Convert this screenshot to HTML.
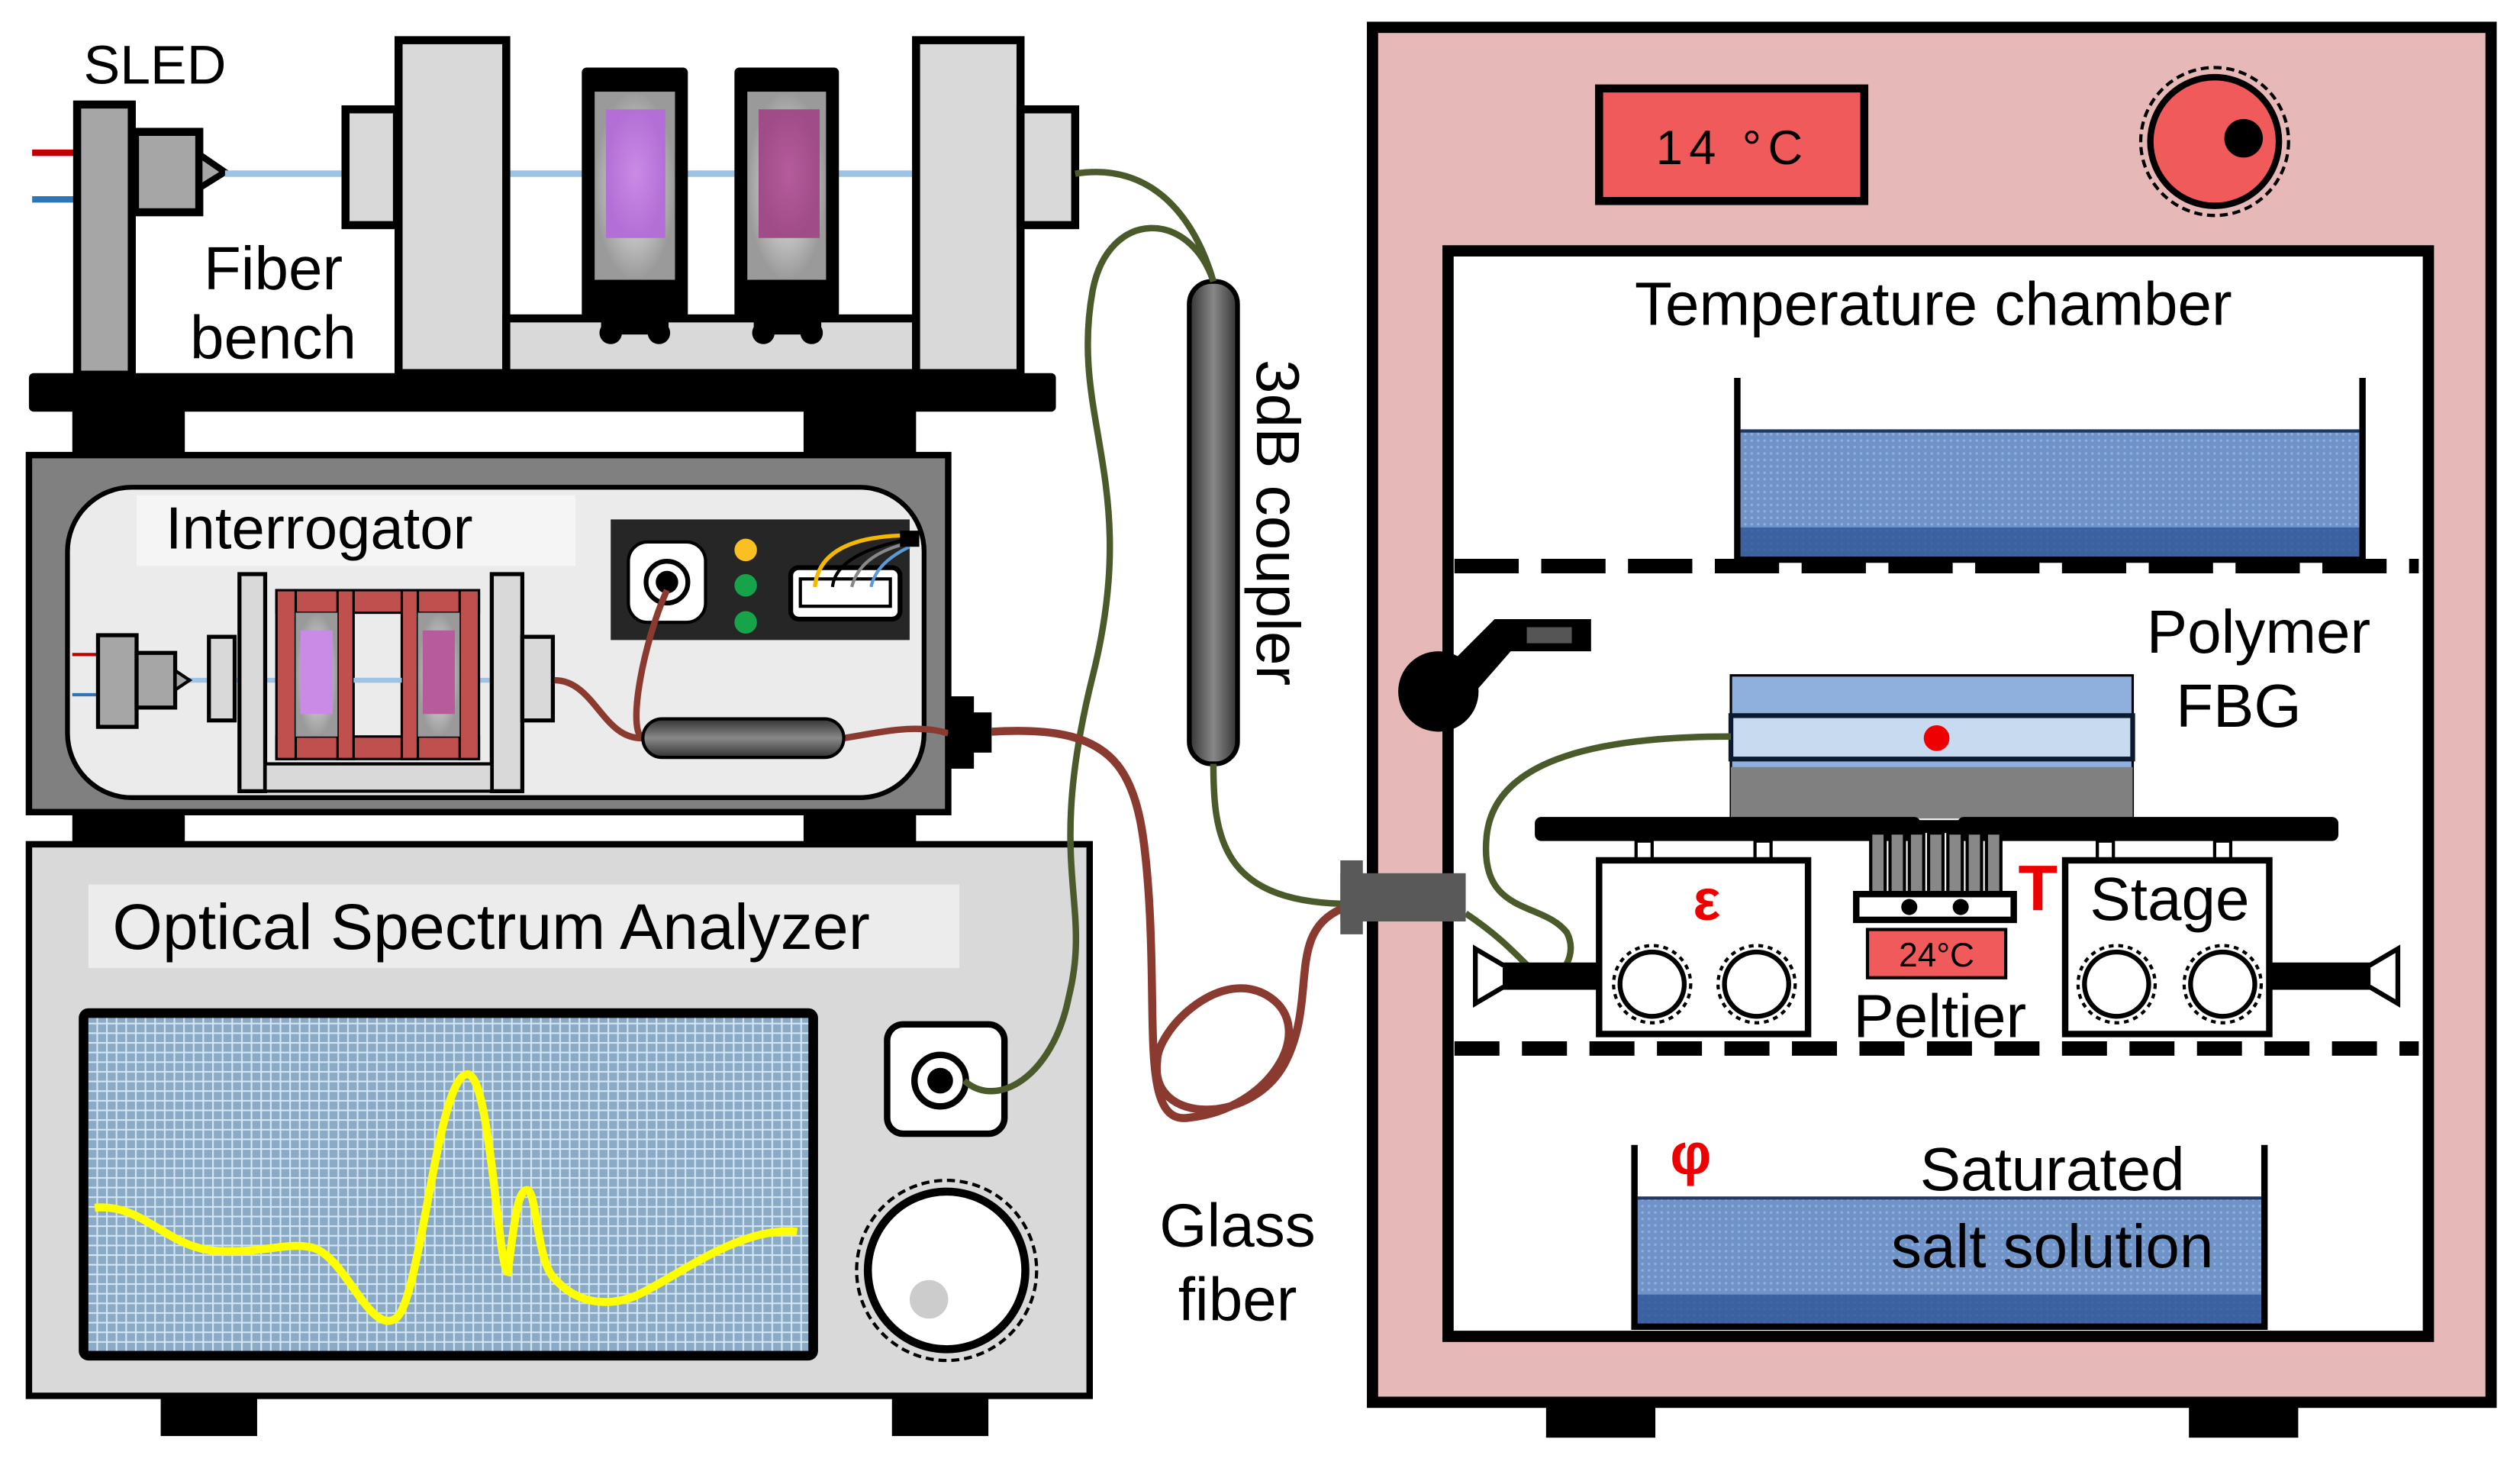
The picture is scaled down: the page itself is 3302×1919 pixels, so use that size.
<!DOCTYPE html>
<html><head><meta charset="utf-8"><style>
html,body{margin:0;padding:0;background:#fff}
svg{display:block}
text{font-family:"Liberation Sans","DejaVu Sans",sans-serif}
</style></head><body>
<svg width="3302" height="1919" viewBox="0 0 1568 911" preserveAspectRatio="none" xmlns="http://www.w3.org/2000/svg">
<defs>
<pattern id="grid" width="6" height="6" patternUnits="userSpaceOnUse">
<rect width="6" height="6" fill="#8aaac6"/><path d="M0 0.5H6M0.5 0V6" stroke="#d4e6f4" stroke-width="1"/>
</pattern>
<pattern id="dots" width="4" height="4" patternUnits="userSpaceOnUse">
<rect width="4" height="4" fill="#6f93c7"/><circle cx="2" cy="2" r="0.8" fill="#8fb0dd"/>
</pattern>
<linearGradient id="cpl" x1="0" x2="1"><stop offset="0" stop-color="#333"/><stop offset="0.5" stop-color="#888"/><stop offset="1" stop-color="#333"/></linearGradient>
<linearGradient id="cplh" x1="0" x2="0" y1="0" y2="1"><stop offset="0" stop-color="#333"/><stop offset="0.5" stop-color="#888"/><stop offset="1" stop-color="#333"/></linearGradient>
<radialGradient id="filt1"><stop offset="0" stop-color="#c98be6"/><stop offset="1" stop-color="#b46fd6"/></radialGradient>
<radialGradient id="filt2"><stop offset="0" stop-color="#b65c9c"/><stop offset="1" stop-color="#a04c88"/></radialGradient>
<radialGradient id="fback"><stop offset="0" stop-color="#f2f2f2"/><stop offset="1" stop-color="#9a9a9a"/></radialGradient>
</defs>

<!-- SLED / Fiber bench -->
<text x="52" y="52" font-size="34">SLED</text>
<line x1="20" y1="95" x2="48" y2="95" stroke="#c00000" stroke-width="4"/>
<line x1="20" y1="124" x2="48" y2="124" stroke="#2e75b6" stroke-width="4"/>
<rect x="48" y="65" width="34" height="168" fill="#a6a6a6" stroke="#000" stroke-width="5"/>
<rect x="84" y="82" width="40" height="50" fill="#a6a6a6" stroke="#000" stroke-width="5"/>
<path d="M124 96 L140 107 L124 117Z" fill="#a6a6a6" stroke="#000" stroke-width="4"/>
<line x1="140" y1="108" x2="570" y2="108" stroke="#9dc3e6" stroke-width="4"/>
<rect x="215" y="68" width="32" height="72" fill="#d9d9d9" stroke="#000" stroke-width="5"/>
<rect x="248" y="25" width="67" height="207" fill="#d9d9d9" stroke="#000" stroke-width="5"/>
<rect x="315" y="198" width="255" height="34" fill="#d9d9d9" stroke="#000" stroke-width="5"/>
<rect x="570" y="25" width="65" height="207" fill="#d9d9d9" stroke="#000" stroke-width="5"/>
<rect x="635" y="68" width="34" height="72" fill="#d9d9d9" stroke="#000" stroke-width="5"/>
<g>
<rect x="362" y="42" width="66" height="156" rx="3" fill="#000"/>
<rect x="370" y="57" width="50" height="117" fill="url(#fback)"/>
<rect x="377" y="68" width="37" height="80" fill="url(#filt1)"/>
<rect x="374" y="174" width="42" height="34" fill="#000"/>
<circle cx="380" cy="207" r="7" fill="#000"/><circle cx="410" cy="207" r="7" fill="#000"/>
<rect x="457" y="42" width="65" height="156" rx="3" fill="#000"/>
<rect x="465" y="57" width="49" height="117" fill="url(#fback)"/>
<rect x="472" y="68" width="38" height="80" fill="url(#filt2)"/>
<rect x="469" y="174" width="42" height="34" fill="#000"/>
<circle cx="475" cy="207" r="7" fill="#000"/><circle cx="505" cy="207" r="7" fill="#000"/>
</g>
<text x="170" y="180" font-size="38" text-anchor="middle">Fiber</text>
<text x="170" y="223" font-size="38" text-anchor="middle">bench</text>
<rect x="18" y="232" width="639" height="24" rx="3" fill="#000"/>
<rect x="45" y="255" width="70" height="30" fill="#000"/>
<rect x="500" y="255" width="70" height="30" fill="#000"/>

<!-- Interrogator -->
<rect x="18" y="283" width="572" height="222" fill="#808080" stroke="#000" stroke-width="4"/>
<rect x="42" y="303" width="533" height="193" rx="40" fill="#ebebeb" stroke="#000" stroke-width="3"/>
<rect x="85" y="308" width="273" height="44" fill="#f5f5f5"/>
<text x="103" y="341" font-size="37">Interrogator</text>
<rect x="380" y="323" width="186" height="75" fill="#262626"/>
<rect x="391" y="337" width="48" height="50" rx="12" fill="#fff" stroke="#000" stroke-width="2"/>
<circle cx="415" cy="362" r="13" fill="#fff" stroke="#000" stroke-width="3"/>
<circle cx="415" cy="362" r="7" fill="#000"/>
<circle cx="464" cy="342" r="7" fill="#fbbf24"/>
<circle cx="464" cy="364" r="7" fill="#16a34a"/>
<circle cx="464" cy="387" r="7" fill="#16a34a"/>
<rect x="492" y="353" width="68" height="32" rx="5" fill="#fff" stroke="#000" stroke-width="3"/>
<rect x="498" y="360" width="56" height="17" fill="#fff" stroke="#000" stroke-width="2"/>
<path d="M507 365 Q510 335 560 333" fill="none" stroke-width="2.5" stroke="#f5b800"/>
<path d="M518 365 Q520 345 562 336" fill="none" stroke="#000" stroke-width="2"/>
<path d="M530 365 Q535 345 564 338" fill="none" stroke="#888" stroke-width="2"/>
<path d="M542 365 Q545 350 566 340" fill="none" stroke="#5b9bd5" stroke-width="2"/>
<rect x="560" y="330" width="12" height="10" fill="#000"/>
<!-- mini bench -->
<line x1="45" y1="407" x2="62" y2="407" stroke="#c00000" stroke-width="2"/>
<line x1="45" y1="432" x2="62" y2="432" stroke="#2e75b6" stroke-width="2"/>
<line x1="110" y1="423" x2="325" y2="423" stroke="#9dc3e6" stroke-width="3"/>
<rect x="61" y="395" width="24" height="57" fill="#a6a6a6" stroke="#000" stroke-width="2.5"/>
<rect x="85" y="406" width="24" height="34" fill="#a6a6a6" stroke="#000" stroke-width="2.5"/>
<path d="M109 417 L118 423 L109 429Z" fill="#a6a6a6" stroke="#000" stroke-width="2"/>
<rect x="130" y="396" width="16" height="52" fill="#d9d9d9" stroke="#000" stroke-width="2.5"/>
<rect x="149" y="357" width="16" height="135" fill="#d9d9d9" stroke="#000" stroke-width="2.5"/>
<rect x="306" y="357" width="19" height="135" fill="#d9d9d9" stroke="#000" stroke-width="2.5"/>
<rect x="325" y="396" width="19" height="52" fill="#d9d9d9" stroke="#000" stroke-width="2.5"/>
<rect x="165" y="475" width="141" height="17" fill="#d9d9d9" stroke="#000" stroke-width="2"/>
<!-- brown frames -->
<g fill="#c0504d" stroke="#000" stroke-width="1.5">
<rect x="172" y="367" width="126" height="14"/>
<rect x="172" y="458" width="126" height="14"/>
<rect x="172" y="367" width="12" height="105"/>
<rect x="210" y="367" width="10" height="105"/>
<rect x="250" y="367" width="10" height="105"/>
<rect x="286" y="367" width="12" height="105"/>
</g>
<rect x="184" y="381" width="26" height="77" fill="url(#fback)"/>
<rect x="260" y="381" width="26" height="77" fill="url(#fback)"/>
<rect x="187" y="392" width="20" height="52" fill="#c98be6"/>
<rect x="263" y="392" width="20" height="52" fill="#b65c9c"/>
<line x1="220" y1="423" x2="250" y2="423" stroke="#9dc3e6" stroke-width="3"/>
<!-- internal coupler & fiber -->
<path d="M345 423 C370 423 375 460 400 459 M415 367 C400 400 390 455 400 459 M525 459 C550 455 570 450 590 456" fill="none" stroke="#8b3a30" stroke-width="4"/>
<rect x="400" y="447" width="125" height="24" rx="12" fill="url(#cplh)" stroke="#000" stroke-width="2"/>
<rect x="590" y="433" width="16" height="45" fill="#000"/>
<rect x="600" y="443" width="17" height="25" fill="#000"/>
<rect x="45" y="505" width="70" height="22" fill="#000"/>
<rect x="500" y="505" width="70" height="22" fill="#000"/>

<!-- OSA -->
<rect x="18" y="525" width="660" height="343" fill="#d9d9d9" stroke="#000" stroke-width="4"/>
<rect x="55" y="550" width="542" height="52" fill="#ececec"/>
<text x="70" y="590" font-size="40">Optical Spectrum Analyzer</text>
<rect x="52" y="630" width="454" height="213" rx="3" fill="url(#grid)" stroke="#000" stroke-width="6"/>
<path d="M59 751 C90 748 105 778 138 778 C165 779 180 772 195 776 C215 782 230 830 246 820 C262 810 272 668 291 668 C305 668 310 790 316 791 C320 760 322 740 328 740 C334 740 334 785 345 795 C360 812 380 812 395 806 C420 795 460 762 496 766" fill="none" stroke="#ffff00" stroke-width="5"/>
<rect x="552" y="637" width="73" height="68" rx="10" fill="#fff" stroke="#000" stroke-width="4"/>
<circle cx="585" cy="672" r="16" fill="#fff" stroke="#000" stroke-width="4"/>
<circle cx="585" cy="672" r="8" fill="#000"/>
<circle cx="589" cy="790" r="56" fill="none" stroke="#000" stroke-width="2" stroke-dasharray="5 3"/>
<circle cx="589" cy="790" r="49" fill="#fff" stroke="#000" stroke-width="5"/>
<circle cx="578" cy="808" r="12" fill="#ccc"/>
<rect x="100" y="868" width="60" height="25" fill="#000"/>
<rect x="555" y="868" width="60" height="25" fill="#000"/>

<!-- 3dB coupler -->
<rect x="740" y="175" width="30" height="300" rx="14" fill="url(#cpl)" stroke="#000" stroke-width="3"/>
<text transform="translate(782,325) rotate(90)" font-size="38" text-anchor="middle">3dB coupler</text>

<!-- Glass fibers -->
<path d="M669 108 C720 100 745 140 755 175" fill="none" stroke="#4a5a2a" stroke-width="4"/>
<path d="M755 175 C740 130 690 130 680 180 C665 260 710 300 680 420 C650 540 680 560 665 620 C655 670 620 690 600 672" fill="none" stroke="#4a5a2a" stroke-width="4"/>
<path d="M755 475 C755 520 760 560 835 562" fill="none" stroke="#4a5a2a" stroke-width="4"/>
<path d="M617 455 C700 450 710 480 715 560 C720 640 710 700 740 695 C790 690 820 640 790 620 C760 600 720 640 720 660 C715 700 780 700 800 660 C820 620 800 580 835 565" fill="none" stroke="#8b3a30" stroke-width="5"/>
<text x="770" y="775" font-size="38" text-anchor="middle">Glass</text>
<text x="770" y="821" font-size="38" text-anchor="middle">fiber</text>

<!-- Chamber -->
<rect x="854" y="17" width="696" height="855" fill="#e6b9b8" stroke="#000" stroke-width="7"/>
<rect x="995" y="55" width="165" height="70" fill="#f05a5a" stroke="#000" stroke-width="5"/>
<text x="1078" y="102" font-size="30" text-anchor="middle" font-family="Liberation Mono, monospace" letter-spacing="4">14 °C</text>
<circle cx="1378" cy="88" r="46" fill="none" stroke="#000" stroke-width="2" stroke-dasharray="5 3"/>
<circle cx="1378" cy="88" r="40" fill="#f05a5a" stroke="#000" stroke-width="4"/>
<circle cx="1396" cy="86" r="12" fill="#000"/>
<rect x="901" y="156" width="610" height="675" fill="#fff" stroke="#000" stroke-width="7"/>
<text x="1203" y="202" font-size="38" text-anchor="middle">Temperature chamber</text>
<rect x="1083" y="268" width="385" height="78" fill="url(#dots)"/>
<rect x="1083" y="328" width="385" height="18" fill="#2f5597" opacity="0.8"/>
<path d="M1081 235 V348 H1470 V235" fill="none" stroke="#000" stroke-width="4"/>
<line x1="1083" y1="268" x2="1468" y2="268" stroke="#1f3864" stroke-width="2"/>
<line x1="905" y1="352" x2="1505" y2="352" stroke="#000" stroke-width="9" stroke-dasharray="40 14"/>
<line x1="905" y1="652" x2="1505" y2="652" stroke="#000" stroke-width="9" stroke-dasharray="28 14"/>
<text x="1475" y="406" font-size="38" text-anchor="end">Polymer</text>
<text x="1432" y="452" font-size="38" text-anchor="end">FBG</text>
<!-- clamp -->
<circle cx="895" cy="430" r="25" fill="#000"/>
<path d="M885 430 L930 385 L990 385 L990 405 L940 405 L905 445Z" fill="#000"/>
<rect x="950" y="390" width="28" height="10" fill="#555"/>
<!-- sample -->
<rect x="1077" y="420" width="250" height="88" fill="#8fb0dd" stroke="#000" stroke-width="1.5"/>
<rect x="1077" y="445" width="250" height="27" fill="#c7daf0" stroke="#0a1a30" stroke-width="3"/>
<rect x="1077" y="477" width="250" height="32" fill="#808080"/>
<circle cx="1205" cy="459" r="8" fill="#ee0000"/>
<path d="M1077 458 C1000 458 930 470 925 520 C920 570 960 560 975 580 C985 600 960 620 950 600 C940 590 930 580 912 568" fill="none" stroke="#4a5a2a" stroke-width="4"/>
<!-- stage -->
<rect x="955" y="508" width="240" height="15" rx="4" fill="#000"/>
<rect x="1218" y="508" width="237" height="15" rx="4" fill="#000"/>
<rect x="1195" y="511" width="23" height="8" fill="#fff"/>
<g fill="#fff" stroke="#000" stroke-width="2"><rect x="1018" y="523" width="10" height="14"/><rect x="1092" y="523" width="10" height="14"/><rect x="1305" y="523" width="10" height="14"/><rect x="1378" y="523" width="10" height="14"/></g>
<rect x="1158" y="510" width="95" height="8" rx="3" fill="#000"/>
<g stroke="#000" stroke-width="2" fill="#888"><rect x="1164" y="518" width="9" height="38"/><rect x="1176" y="518" width="9" height="38"/><rect x="1188" y="518" width="9" height="38"/><rect x="1200" y="518" width="9" height="38"/><rect x="1212" y="518" width="9" height="38"/><rect x="1224" y="518" width="9" height="38"/><rect x="1236" y="518" width="9" height="38"/></g>
<rect x="1155" y="556" width="98" height="16" fill="#fff" stroke="#000" stroke-width="4"/>
<circle cx="1188" cy="564" r="5" fill="#000"/><circle cx="1220" cy="564" r="5" fill="#000"/>
<rect x="1162" y="578" width="86" height="30" fill="#f05a5a" stroke="#000" stroke-width="2"/>
<text x="1205" y="601" font-size="21" text-anchor="middle" font-family="Liberation Mono, monospace">24°C</text>
<text x="1207" y="645" font-size="38" text-anchor="middle">Peltier</text>
<path d="M918 590 L935 600 H995 V614 H935 L918 624Z" fill="#fff" stroke="#000" stroke-width="3"/>
<rect x="935" y="600" width="60" height="14" fill="#000"/>
<path d="M1492 590 L1475 600 H1412 V614 H1475 L1492 624Z" fill="#fff" stroke="#000" stroke-width="3"/>
<rect x="1412" y="600" width="63" height="14" fill="#000"/>
<rect x="995" y="535" width="130" height="108" fill="#fff" stroke="#000" stroke-width="4"/>
<rect x="1285" y="535" width="127" height="108" fill="#fff" stroke="#000" stroke-width="4"/>
<g fill="#fff" stroke="#000">
<circle cx="1028" cy="612" r="24" stroke-width="2" stroke-dasharray="3 3"/><circle cx="1028" cy="612" r="20" stroke-width="3"/>
<circle cx="1093" cy="612" r="24" stroke-width="2" stroke-dasharray="3 3"/><circle cx="1093" cy="612" r="20" stroke-width="3"/>
<circle cx="1317" cy="612" r="24" stroke-width="2" stroke-dasharray="3 3"/><circle cx="1317" cy="612" r="20" stroke-width="3"/>
<circle cx="1383" cy="612" r="24" stroke-width="2" stroke-dasharray="3 3"/><circle cx="1383" cy="612" r="20" stroke-width="3"/>
</g>
<text x="1062" y="572" font-size="36" fill="#ee0000" font-weight="bold" text-anchor="middle">ε</text>
<text x="1268" y="566" font-size="40" fill="#ee0000" font-weight="bold" text-anchor="middle">T</text>
<text x="1350" y="572" font-size="38" text-anchor="middle">Stage</text>
<!-- feedthrough -->
<rect x="834" y="543" width="78" height="30" fill="#595959"/>
<rect x="834" y="535" width="14" height="46" fill="#595959"/>
<!-- bottom tray -->
<rect x="1019" y="745" width="388" height="80" fill="url(#dots)"/>
<rect x="1019" y="805" width="388" height="20" fill="#2f5597" opacity="0.8"/>
<path d="M1017 712 V825 H1409 V712" fill="none" stroke="#000" stroke-width="4"/>
<line x1="1019" y1="745" x2="1407" y2="745" stroke="#1f3864" stroke-width="2"/>
<text x="1052" y="730" font-size="36" fill="#ee0000" font-weight="bold" text-anchor="middle">φ</text>
<text x="1277" y="740" font-size="38" text-anchor="middle">Saturated</text>
<text x="1277" y="788" font-size="38" text-anchor="middle">salt solution</text>
<rect x="962" y="872" width="68" height="22" fill="#000"/>
<rect x="1362" y="872" width="68" height="22" fill="#000"/>
</svg>
</body></html>
